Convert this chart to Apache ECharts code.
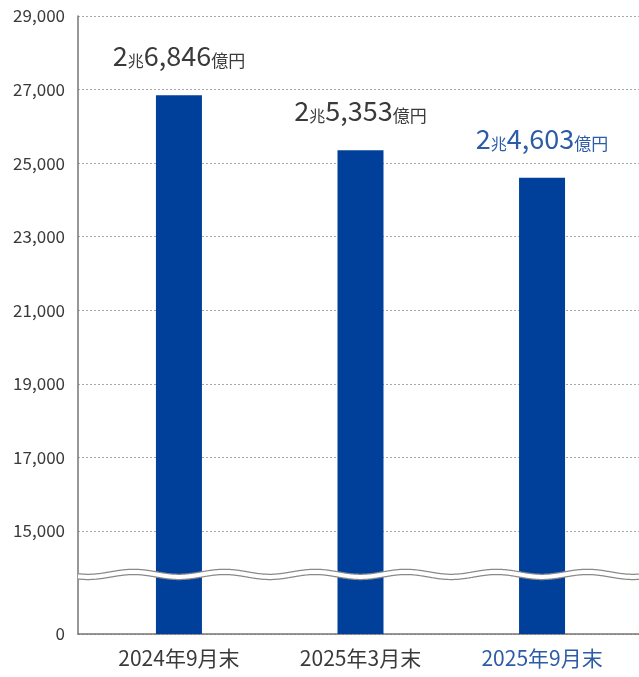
<!DOCTYPE html>
<html>
<head>
<meta charset="utf-8">
<style>
  html, body { margin: 0; padding: 0; background: #ffffff; }
  #chart { width: 639px; height: 677px; }
</style>
<script src="https://cdn.jsdelivr.net/npm/echarts@6/dist/echarts.min.js"></script>
</head>
<body>
<div id="chart"></div>
<script>
// ---- data ----
const categories = ['2024年9月末', '2025年3月末', '2025年9月末'];
const values = [26846, 25353, 24603];
const yTickValues = [15000, 17000, 19000, 21000, 23000, 25000, 27000, 29000];
const axisBase = 12200;      // position shown as "0" (broken axis)
const breakValue = 13820;    // where the wavy break is drawn
const highlightIndex = 2;

const FONT = '"Noto Sans CJK JP", "Noto Sans", sans-serif';
const TEXT = '#3a3a3a';
const BLUE = '#2c5ca8';
const BAR = '#00409a';

function fmtComma(n) {
  return String(n).replace(/\B(?=(\d{3})+(?!\d))/g, ',');
}
function labelRich(v) {
  const cho = Math.floor(v / 10000);
  const oku = v % 10000;
  return '{a|' + cho + '}{b|兆}{a|' + fmtComma(oku) + '}{c|億円}';
}

const chart = echarts.init(document.getElementById('chart'), null, { renderer: 'canvas' });

function richFor(color) {
  return {
    a: { fontSize: 27, fontFamily: FONT, color: color, verticalAlign: 'bottom', lineHeight: 30 },
    b: { fontSize: 16, fontFamily: FONT, color: color, verticalAlign: 'bottom', lineHeight: 23 },
    c: { fontSize: 17, fontFamily: FONT, color: color, verticalAlign: 'bottom', lineHeight: 23 }
  };
}

const seriesData = values.map(function (v, i) {
  const c = i === highlightIndex ? BLUE : TEXT;
  return {
    value: [i, v],
    label: { color: c, rich: richFor(c) }
  };
});

chart.setOption({
  animation: false,
  backgroundColor: '#ffffff',
  grid: { left: 78, right: 0, top: 16, bottom: 43, containLabel: false },
  xAxis: {
    type: 'value',
    min: -0.556,
    max: 2.534,
    axisLine: { show: true, onZero: false, lineStyle: { color: '#7a7474', width: 1.5 } },
    axisTick: { show: false, customValues: [0, 1, 2] },
    splitLine: { show: false },
    axisLabel: {
      customValues: [0, 1, 2],
      margin: 14,
      fontSize: 21,
      fontFamily: FONT,
      color: TEXT,
      formatter: function (v) {
        const i = Math.round(v);
        return i === highlightIndex ? '{h|' + categories[i] + '}' : '{n|' + categories[i] + '}';
      },
      rich: {
        n: { fontSize: 21, fontFamily: FONT, color: TEXT },
        h: { fontSize: 21, fontFamily: FONT, color: BLUE }
      }
    }
  },
  yAxis: {
    type: 'value',
    min: axisBase,
    max: 29000,
    axisLine: { show: true, onZero: false, lineStyle: { color: '#7a7474', width: 1.5 } },
    axisTick: { show: false, customValues: [axisBase].concat(yTickValues) },
    splitLine: { show: true, lineStyle: { color: '#a8a8a8', type: [2, 2], width: 1 } },
    axisLabel: {
      customValues: [axisBase].concat(yTickValues),
      margin: 13,
      fontSize: 17,
      fontFamily: FONT,
      color: TEXT,
      formatter: function (v) {
        return v === axisBase ? '0' : fmtComma(v);
      }
    }
  },
  series: [{
    type: 'bar',
    barWidth: 46,
    itemStyle: { color: BAR },
    data: seriesData,
    label: {
      show: true,
      position: 'top',
      distance: 26,
      formatter: function (p) { return labelRich(p.value[1]); }
    }
  }]
});

// wavy break decoration across the plot
function drawBreak() {
  const left = chart.convertToPixel({ gridIndex: 0 }, [-0.556, breakValue]);
  const right = chart.convertToPixel({ gridIndex: 0 }, [2.534, breakValue]);
  const x0 = chart.convertToPixel({ gridIndex: 0 }, [0, breakValue])[0];
  const x1 = chart.convertToPixel({ gridIndex: 0 }, [1, breakValue])[0];
  const period = (x1 - x0) / 2;
  const yc = left[1];
  const amp = 2.5;
  const pts = [];
  for (let x = left[0]; x <= right[0] + 0.5; x += 1) {
    pts.push([x, yc + amp * Math.cos(2 * Math.PI * (x - x0) / period)]);
  }
  chart.setOption({
    graphic: [
      { type: 'polyline', z: 100, shape: { points: pts }, style: { stroke: '#8c8888', lineWidth: 6.5, fill: null } },
      { type: 'polyline', z: 101, shape: { points: pts }, style: { stroke: '#ffffff', lineWidth: 4, fill: null } }
    ]
  });
}
drawBreak();
</script>
</body>
</html>
